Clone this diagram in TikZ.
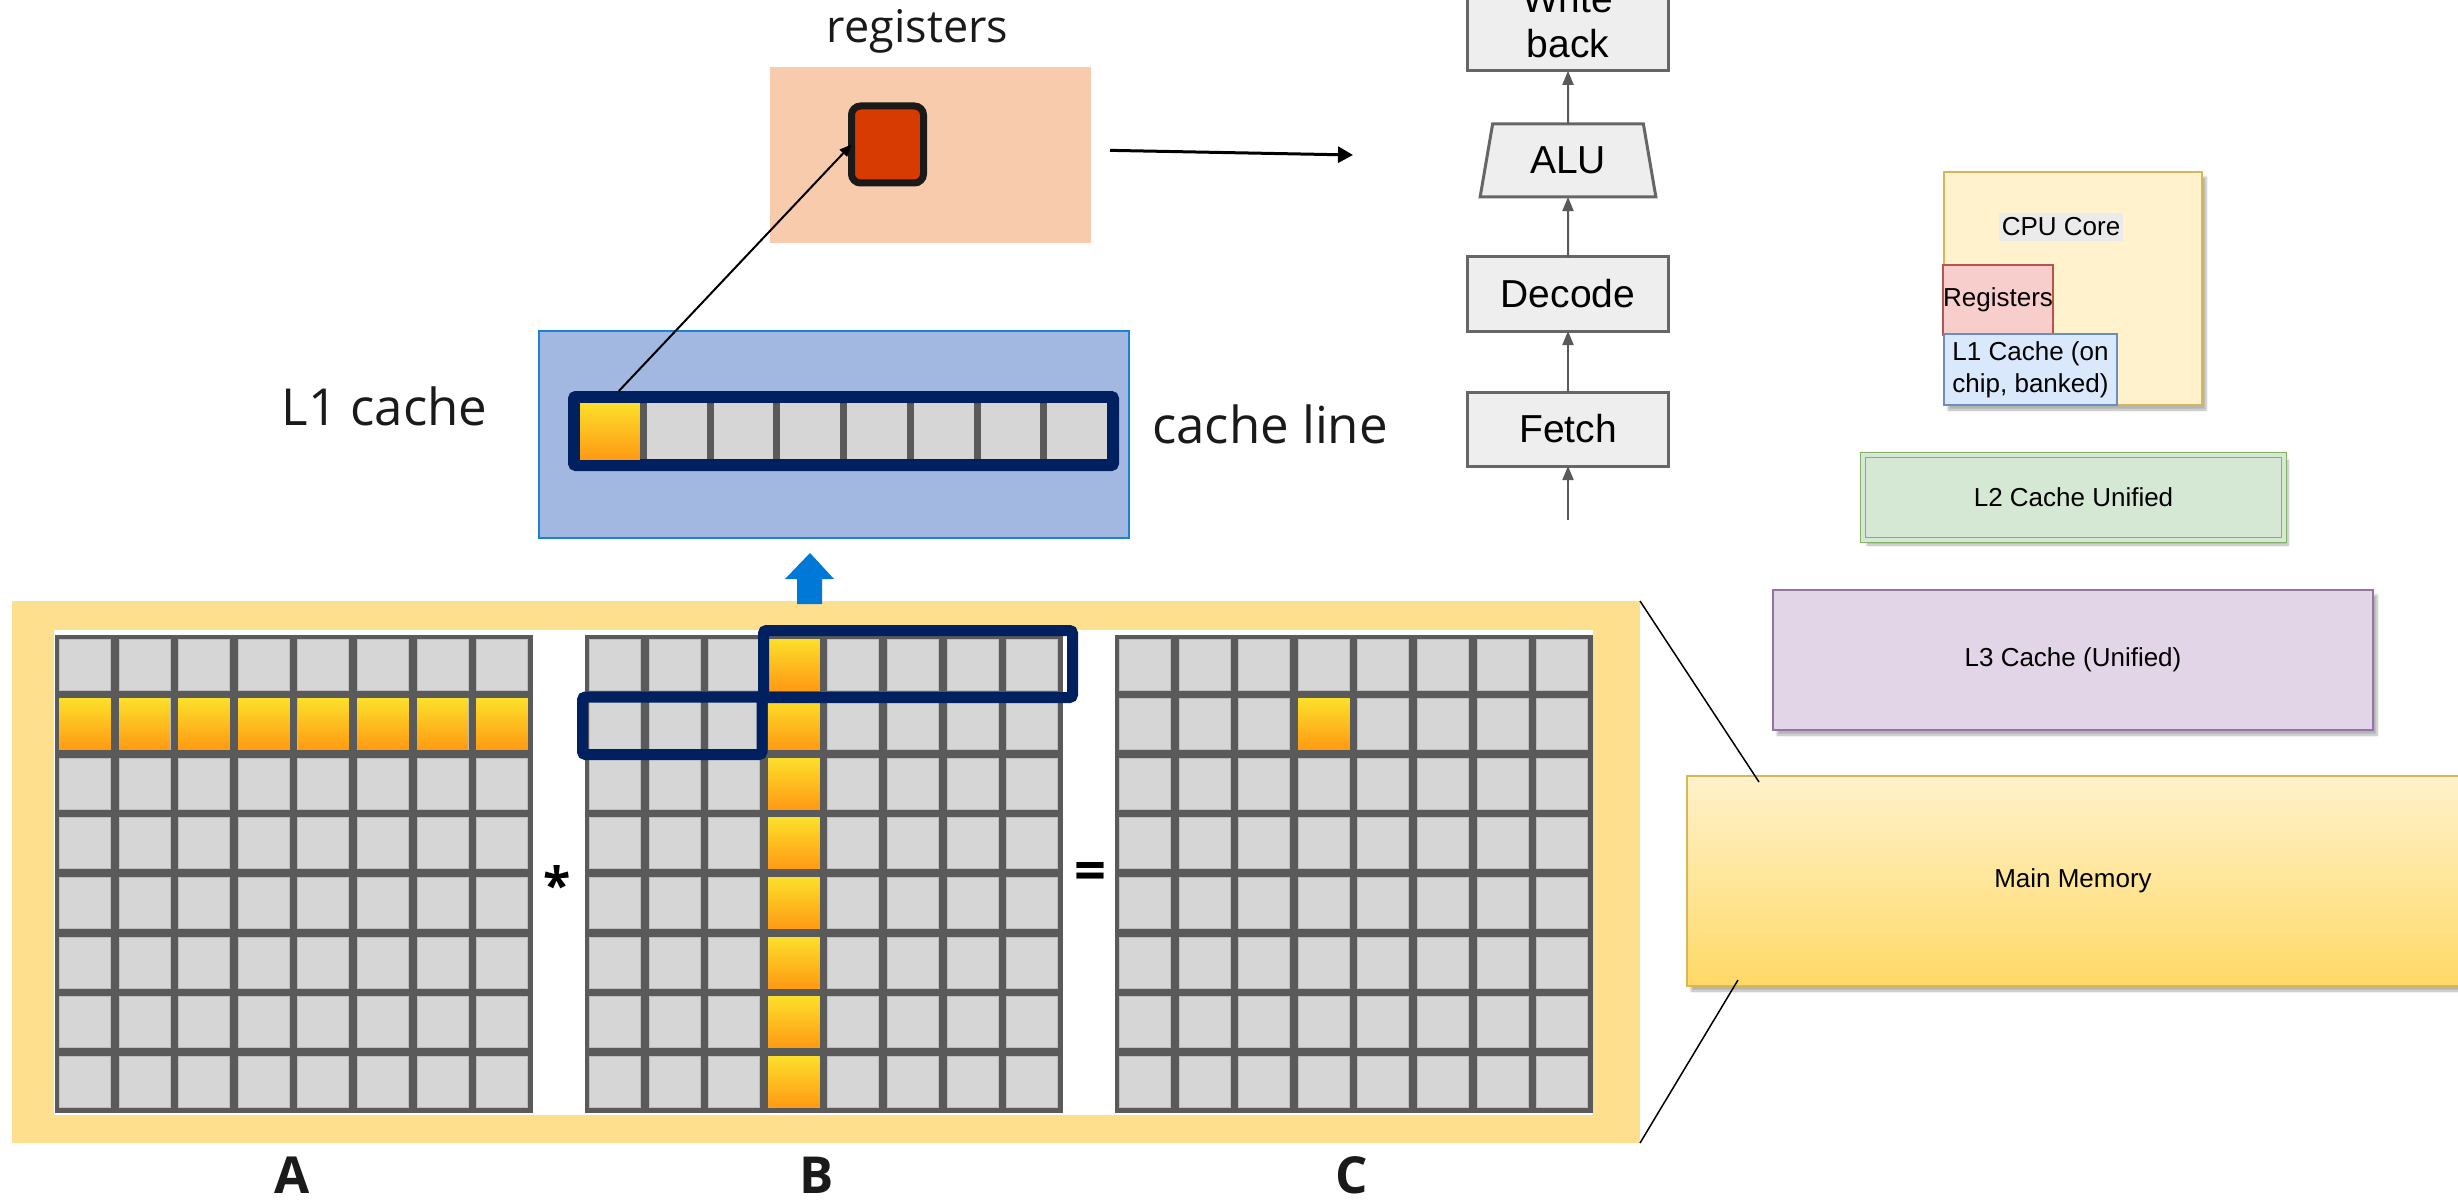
\documentclass[tikz,border=0pt]{standalone}
\usepackage{fontspec}
\setmainfont{Open Sans}
\newfontfamily\arialf{Liberation Sans}
\usetikzlibrary{shadows,shadows.blur,arrows.meta,shapes.geometric,calc}
\definecolor{peach}{HTML}{F8CBAD}
\definecolor{regred}{HTML}{D83B01}
\definecolor{regedge}{HTML}{1A1A1A}
\definecolor{lonefill}{HTML}{A2B8E1}
\definecolor{loneedge}{HTML}{1A82D8}
\definecolor{navy}{HTML}{002060}
\definecolor{frameyel}{HTML}{FEDF8E}
\definecolor{cellgray}{HTML}{D6D6D6}
\definecolor{celledge}{HTML}{BDBDBD}
\definecolor{griddark}{HTML}{5A5A5A}
\definecolor{hiltop}{HTML}{FCDF2A}
\definecolor{hilbot}{HTML}{FF9A14}
\definecolor{arrowblue}{HTML}{0078D7}
\definecolor{pipefill}{HTML}{EEEEEE}
\definecolor{pipeedge}{HTML}{666666}
\definecolor{pipearr}{HTML}{595959}
\definecolor{cpufill}{HTML}{FFF2CC}
\definecolor{cpuedge}{HTML}{D6B656}
\definecolor{lblgray}{HTML}{EBEBEB}
\definecolor{rgfill}{HTML}{F8CECC}
\definecolor{rgedge}{HTML}{B85450}
\definecolor{lofill}{HTML}{DAE8FC}
\definecolor{loedge}{HTML}{6C8EBF}
\definecolor{ltwofill}{HTML}{D5E8D4}
\definecolor{ltwoedge}{HTML}{82B366}
\definecolor{lthreefill}{HTML}{E1D5E7}
\definecolor{lthreeedge}{HTML}{9673A6}
\definecolor{memtop}{HTML}{FFF2CC}
\definecolor{membot}{HTML}{FFD966}
\definecolor{txt}{HTML}{1A1A1A}
\begin{document}
\begin{tikzpicture}[x=1pt,y=-1pt,
  plain/.style={inner sep=0pt,outer sep=0pt},
  biglbl/.style={plain,text=txt,font=\fontsize{51}{60}\selectfont},
  letterlbl/.style={plain,text=txt,font=\bfseries\fontsize{51}{60}\selectfont},
  gcell/.style={fill=cellgray,draw=celledge,line width=1pt},
  hcell/.style={top color=hiltop,bottom color=hilbot,draw=none},
  navybox/.style={draw=navy,line width=11pt,rounded corners=3pt},
  pipebox/.style={plain,draw=pipeedge,fill=pipefill,line width=3pt,minimum width=201pt,minimum height=74pt,font=\arialf\fontsize{39}{45}\selectfont,text=black},
  pipearrow/.style={draw=pipearr,line width=2pt,-{Triangle[length=14pt,width=11pt]}},
  hshadow/.style={blur shadow={shadow xshift=4pt,shadow yshift=-5pt,shadow blur steps=6,shadow opacity=30}},
  hbox/.style={plain,line width=2pt,font=\arialf\fontsize{26}{32}\selectfont,text=black}
]
\useasboundingbox (0,0) rectangle (2458,1201);

% ---------- registers ----------
\node[plain,fill=peach,minimum width=321pt,minimum height=176pt] (regs) at (930.5,155) {};
\node[biglbl,anchor=base,font=\fontsize{45}{54}\selectfont] (regslbl) at (917.5,43) {registers};
\node[plain,draw=regedge,line width=7pt,fill=regred,rounded corners=9pt,minimum width=72pt,minimum height=77pt] (reg) at (887.5,144.5) {};

% ---------- L1 cache ----------
\node[plain,draw=loneedge,line width=2pt,fill=lonefill,minimum width=590pt,minimum height=207pt] (lone) at (834,434.5) {};
\node[plain,draw=navy,line width=12pt,fill=griddark,minimum width=539pt,minimum height=68pt,rounded corners=2pt] (cline) at (843.5,431) {};
\foreach \i in {0,...,7}{
  \node[plain,anchor=north west,minimum width=59.75pt,minimum height=56pt,fill=cellgray] (lc\i) at ({580+\i*66.75},403) {};
}
\shade[hcell] (lc0.north west) rectangle (lc0.south east);
\node[biglbl,anchor=base] (lonelbl) at (384.7,425) {L1 cache};
\node[biglbl,anchor=base] (clinelbl) at (1270,443) {cache line};

% arrows near registers
\draw[line width=2pt,-{Triangle[length=12pt,width=10pt]}] ($(lc0.north)+(9,-12)$) -- (reg.west);
\coordinate (ptr) at (1353,155);
\draw[line width=3pt,-{Triangle[length=15pt,width=16pt]},shorten <=19pt] ([yshift=5pt]regs.east) -- (ptr);

% ---------- memory frame with matrices ----------
\node[plain,fill=frameyel,minimum width=1628pt,minimum height=542pt] (memframe) at (826,872) {};
\fill[white] (54,630) rectangle (1593,1115);
\foreach \gx in {55,585,1115}{
  \fill[griddark] (\gx,634.5) rectangle ++(478,478);
  \foreach \i in {0,...,7}{
    \foreach \j in {0,...,7}{
      \path[gcell] ({\gx+4.5+\i*59.6},{639+\j*59.6}) rectangle ++(51,51);
    }
  }
}
% highlighted: row of A
\foreach \i in {0,...,7}{
  \shade[hcell] ({55+4.5+\i*59.6},{639+59.6}) rectangle ++(51,51);
}
% column of B
\foreach \j in {0,...,7}{
  \shade[hcell] ({585+4.5+3*59.6},{639+\j*59.6}) rectangle ++(51,51);
}
% element of C
\shade[hcell] ({1115+4.5+3*59.6},{639+59.6}) rectangle ++(51,51);

% cache line outline over B
\draw[navybox] (763.5,630.5) rectangle (1072.5,697.5);
\draw[navybox] (582.5,697) rectangle (762,754.5);

\node[plain,text=black,font=\bfseries\fontsize{50}{60}\selectfont] (times) at (557,884) {*};
\node[plain,text=black,font=\bfseries\fontsize{56}{60}\selectfont] (eq) at (1090,876) {=};

\node[letterlbl,anchor=base] (la) at (292,1193) {A};
\node[letterlbl,anchor=base] (lb) at (817,1193) {B};
\node[letterlbl,anchor=base] (lc) at (1352,1193) {C};

% blue up arrow
\fill[arrowblue] (810,553) -- (834,579) -- (822,579) -- (822,604) -- (797,604) -- (797,579) -- (785,579) -- cycle;

% ---------- pipeline ----------
\node[pipebox,minimum height=99pt,align=center] (wb) at (1568,21.3) {Write\\back};
\node[pipebox,trapezium,trapezium left angle=77,trapezium right angle=77,trapezium stretches=true,minimum width=176pt,minimum height=73pt] (alu) at (1568,160.5) {ALU};
\node[pipebox] (dec) at (1568,294) {Decode};
\node[pipebox] (fetch) at (1568,429) {Fetch};
\coordinate (fetchin) at (1568,520);
\draw[pipearrow] (alu.north) -- (wb.south);
\draw[pipearrow] (dec.north) -- (alu.south);
\draw[pipearrow] (fetch.north) -- (dec.south);
\draw[pipearrow] (fetchin) -- (fetch.south);

% ---------- memory hierarchy ----------
\node[hbox,hshadow,fill=cpufill,draw=cpuedge,minimum width=258pt,minimum height=233pt] (cpu) at (2073,288.5) {};
\node[plain,fill=lblgray,inner xsep=3pt,inner ysep=5pt,font=\arialf\fontsize{26}{32}\selectfont] (cpulbl) at (2061,227) {CPU Core};
\node[hbox,fill=rgfill,draw=rgedge,minimum width=108pt,minimum height=70pt] (hreg) at (1998,300) {Registers};
\node[hbox,fill=lofill,draw=loedge,minimum width=173pt,minimum height=71pt,align=left] (hlone) at (2030.5,369.5) {L1 Cache (on\\chip, banked)};
\node[hbox,hshadow,fill=ltwofill,draw=ltwoedge,line width=1.5pt,double=ltwofill,double distance=3.5pt,minimum width=421pt,minimum height=85pt] (hltwo) at (2073.5,497.5) {L2 Cache Unified};
\node[hbox,hshadow,fill=lthreefill,draw=lthreeedge,minimum width=600pt,minimum height=140pt] (hlthree) at (2073,660) {L3 Cache (Unified)};
\node[hbox,hshadow,top color=memtop,bottom color=membot,draw=cpuedge,minimum width=772pt,minimum height=210pt] (mainmem) at (2073,881) {Main Memory};

% zoom lines
\draw[line width=1.5pt] (memframe.north east) -- ($(mainmem.north west)+(72,6)$);
\draw[line width=1.5pt] (memframe.south east) -- ($(mainmem.south west)+(51,-6)$);
\end{tikzpicture}
\end{document}
